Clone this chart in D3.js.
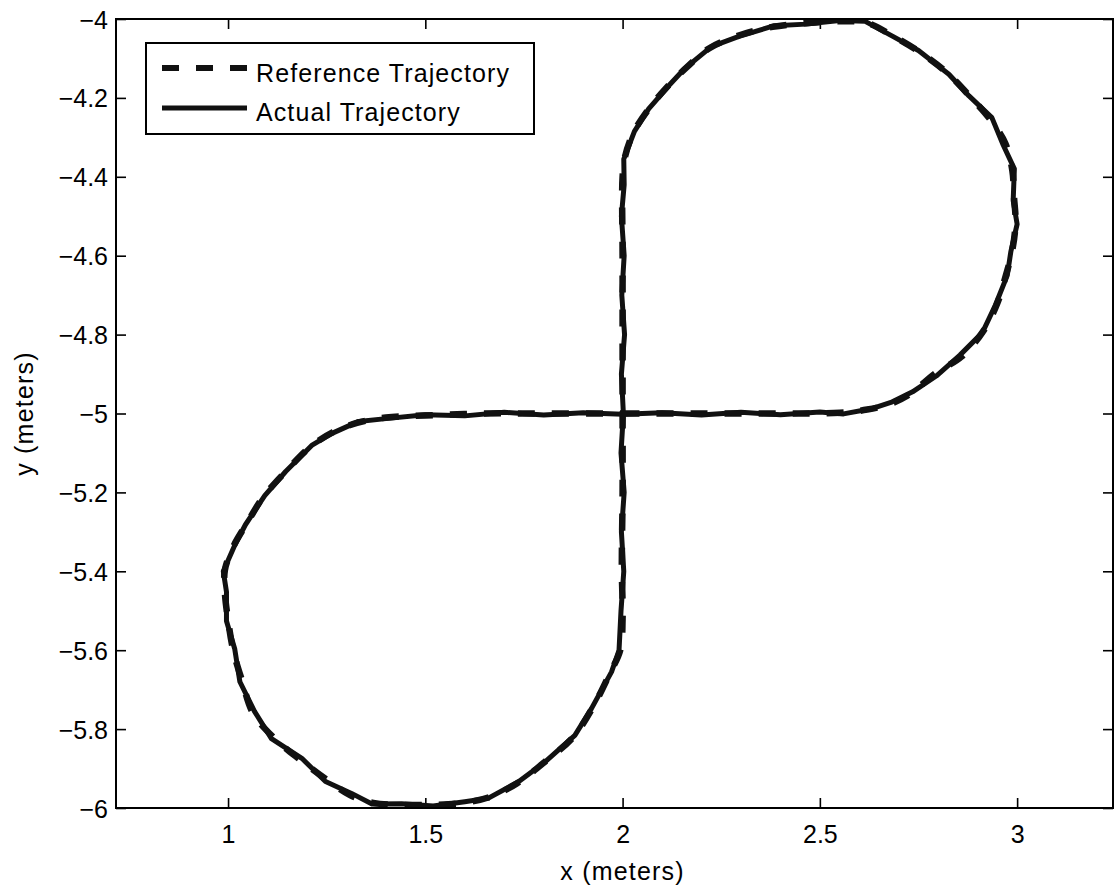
<!DOCTYPE html>
<html>
<head>
<meta charset="utf-8">
<script src="https://cdn.jsdelivr.net/npm/d3@7"></script>
<style>
  html, body { margin: 0; padding: 0; background: #fff; }
  svg { display: block; }
  text { font-family: "Liberation Sans", Arial, Helvetica, sans-serif; fill: #000; }
</style>
</head>
<body>
<svg id="chart" width="1118" height="891"></svg>
<script>
// Reference (desired) figure-eight path, in meters
const refX = [2.00, 2.20, 2.40, 2.55, 2.62, 2.68, 2.73, 2.79, 2.86, 2.915, 2.95, 2.97, 2.988, 2.996, 2.992, 2.988, 2.97, 2.932, 2.882, 2.823, 2.755, 2.68, 2.62, 2.55, 2.47, 2.38, 2.30, 2.22, 2.163, 2.113, 2.07, 2.027, 2.006, 2.00, 2.00, 2.00, 2.00, 2.00, 1.998, 2.00, 1.994, 1.968, 1.925, 1.875, 1.809, 1.733, 1.664, 1.596, 1.52, 1.436, 1.368, 1.309, 1.251, 1.183, 1.114, 1.063, 1.035, 1.013, 1.00, 0.992, 0.992, 1.013, 1.048, 1.089, 1.15, 1.208, 1.266, 1.327, 1.40, 1.50, 1.65, 1.80, 2.00];
const refY = [-5.00, -5.00, -5.00, -4.998, -4.99, -4.975, -4.95, -4.90, -4.855, -4.79, -4.72, -4.655, -4.585, -4.515, -4.45, -4.385, -4.315, -4.255, -4.198, -4.137, -4.085, -4.04, -4.01, -4.006, -4.01, -4.02, -4.04, -4.074, -4.122, -4.172, -4.223, -4.289, -4.35, -4.40, -4.60, -4.80, -5.00, -5.20, -5.39, -5.52, -5.60, -5.658, -5.744, -5.82, -5.878, -5.937, -5.972, -5.987, -5.992, -5.992, -5.987, -5.967, -5.929, -5.878, -5.82, -5.759, -5.676, -5.60, -5.523, -5.455, -5.397, -5.338, -5.278, -5.212, -5.143, -5.085, -5.047, -5.024, -5.01, -5.005, -5.00, -5.00, -5.00];

// Measured (actual) path of the vehicle, in meters
const actX = [2.00, 2.10, 2.20, 2.30, 2.40, 2.50, 2.56, 2.63, 2.68, 2.735, 2.795, 2.855, 2.912, 2.945, 2.975, 2.984, 3.00, 2.99, 2.993, 2.965, 2.936, 2.878, 2.827, 2.75, 2.685, 2.615, 2.55, 2.465, 2.385, 2.295, 2.225, 2.158, 2.118, 2.066, 2.03, 2.003, 2.004, 1.997, 2.004, 1.998, 2.005, 1.997, 2.002, 1.996, 2.004, 1.997, 2.003, 1.996, 1.991, 1.972, 1.921, 1.879, 1.805, 1.737, 1.66, 1.60, 1.52, 1.44, 1.365, 1.313, 1.247, 1.187, 1.11, 1.067, 1.03, 1.017, 0.996, 0.996, 0.988, 1.017, 1.044, 1.093, 1.146, 1.212, 1.262, 1.331, 1.40, 1.50, 1.60, 1.70, 1.80, 1.90, 2.00];
const actY = [-5.002, -4.998, -5.004, -4.997, -5.003, -4.996, -5.001, -4.988, -4.972, -4.945, -4.905, -4.852, -4.795, -4.725, -4.65, -4.59, -4.52, -4.46, -4.38, -4.32, -4.25, -4.195, -4.14, -4.08, -4.044, -4.006, -4.004, -4.013, -4.017, -4.044, -4.07, -4.125, -4.168, -4.228, -4.285, -4.355, -4.42, -4.50, -4.60, -4.70, -4.80, -4.90, -5.00, -5.10, -5.20, -5.30, -5.40, -5.50, -5.60, -5.655, -5.748, -5.816, -5.882, -5.933, -5.975, -5.984, -5.995, -5.989, -5.99, -5.963, -5.933, -5.874, -5.824, -5.755, -5.68, -5.597, -5.526, -5.452, -5.40, -5.334, -5.282, -5.208, -5.147, -5.081, -5.051, -5.02, -5.013, -5.003, -5.006, -4.997, -5.004, -4.998, -5.002];

const xTicks = [1, 1.5, 2, 2.5, 3];
const yTicks = [-6, -5.8, -5.6, -5.4, -5.2, -5, -4.8, -4.6, -4.4, -4.2, -4];
const legendLabels = ["Reference Trajectory", "Actual Trajectory"];
const xLabel = "x (meters)";
const yLabel = "y (meters)";

const plot = { left: 116, right: 1113, top: 19, bottom: 808 };

const x = d3.scaleLinear().domain([0.716, 3.243]).range([plot.left, plot.right]);
const y = d3.scaleLinear().domain([-6, -4]).range([plot.bottom, plot.top]);

const svg = d3.select("#chart");
const fmt = v => String(v).replace("-", "\u2212");

svg.append("defs").append("clipPath").attr("id", "plotClip")
  .append("rect")
  .attr("x", plot.left).attr("y", plot.top)
  .attr("width", plot.right - plot.left).attr("height", plot.bottom - plot.top);

// Axes with inward ticks on all four sides
const tickLen = 10;
const gx = svg.append("g").attr("transform", `translate(0,${plot.bottom})`)
  .call(d3.axisBottom(x).tickValues(xTicks).tickFormat(fmt).tickSizeInner(-tickLen).tickSizeOuter(0).tickPadding(17));
const gxt = svg.append("g").attr("transform", `translate(0,${plot.top})`)
  .call(d3.axisTop(x).tickValues(xTicks).tickFormat("").tickSizeInner(-tickLen).tickSizeOuter(0));
const gy = svg.append("g").attr("transform", `translate(${plot.left},0)`)
  .call(d3.axisLeft(y).tickValues(yTicks).tickFormat(fmt).tickSizeInner(-tickLen).tickSizeOuter(0).tickPadding(8));
const gyr = svg.append("g").attr("transform", `translate(${plot.right},0)`)
  .call(d3.axisRight(y).tickValues(yTicks).tickFormat("").tickSizeInner(-tickLen).tickSizeOuter(0));

[gx, gxt, gy, gyr].forEach(g => {
  g.select(".domain").remove();
  g.selectAll(".tick line").attr("stroke", "#000").attr("stroke-width", 1.6);
  g.selectAll(".tick text").attr("font-size", 25).attr("fill", "#000")
    .attr("font-family", "'Liberation Sans', Arial, Helvetica, sans-serif");
});
gy.selectAll(".tick text").attr("dy", "0.36em");

// Trajectories
const line = d3.line().x(d => x(d[0])).y(d => y(d[1]));
const refPts = refX.map((v, i) => [v, refY[i]]);
const actPts = actX.map((v, i) => [v, actY[i]]);

const lines = svg.append("g").attr("clip-path", "url(#plotClip)");
lines.append("path")
  .attr("d", line.curve(d3.curveCatmullRom)(refPts))
  .attr("fill", "none").attr("stroke", "#111").attr("stroke-width", 6.5)
  .attr("stroke-dasharray", "17,17");
lines.append("path")
  .attr("d", line.curve(d3.curveLinear)(actPts))
  .attr("fill", "none").attr("stroke", "#111").attr("stroke-width", 5)
  .attr("stroke-linejoin", "round");

// Axes box
svg.append("rect")
  .attr("x", plot.left).attr("y", plot.top)
  .attr("width", plot.right - plot.left).attr("height", plot.bottom - plot.top)
  .attr("fill", "none").attr("stroke", "#000").attr("stroke-width", 2);

// Axis labels
svg.append("text")
  .attr("x", (x(2))).attr("y", 880)
  .attr("text-anchor", "middle").attr("font-size", 25).attr("letter-spacing", 1.2)
  .text(xLabel);
svg.append("text")
  .attr("transform", `translate(33,${(plot.top + plot.bottom) / 2}) rotate(-90)`)
  .attr("text-anchor", "middle").attr("font-size", 25).attr("letter-spacing", 1.2)
  .text(yLabel);

// Legend
const legend = svg.append("g");
legend.append("rect")
  .attr("x", 146).attr("y", 43).attr("width", 388).attr("height", 91)
  .attr("fill", "#fff").attr("stroke", "#000").attr("stroke-width", 2);
const legendStyles = [
  { width: 6, dash: "17,17", lineY: 68, textY: 82 },
  { width: 5, dash: null, lineY: 108, textY: 121 }
];
legendLabels.forEach((lab, i) => {
  const s = legendStyles[i];
  legend.append("line")
    .attr("x1", 162).attr("x2", 247).attr("y1", s.lineY).attr("y2", s.lineY)
    .attr("stroke", "#111").attr("stroke-width", s.width)
    .attr("stroke-dasharray", s.dash);
  legend.append("text")
    .attr("x", 256).attr("y", s.textY)
    .attr("font-size", 25).attr("letter-spacing", 1.1)
    .text(lab);
});
</script>
</body>
</html>
